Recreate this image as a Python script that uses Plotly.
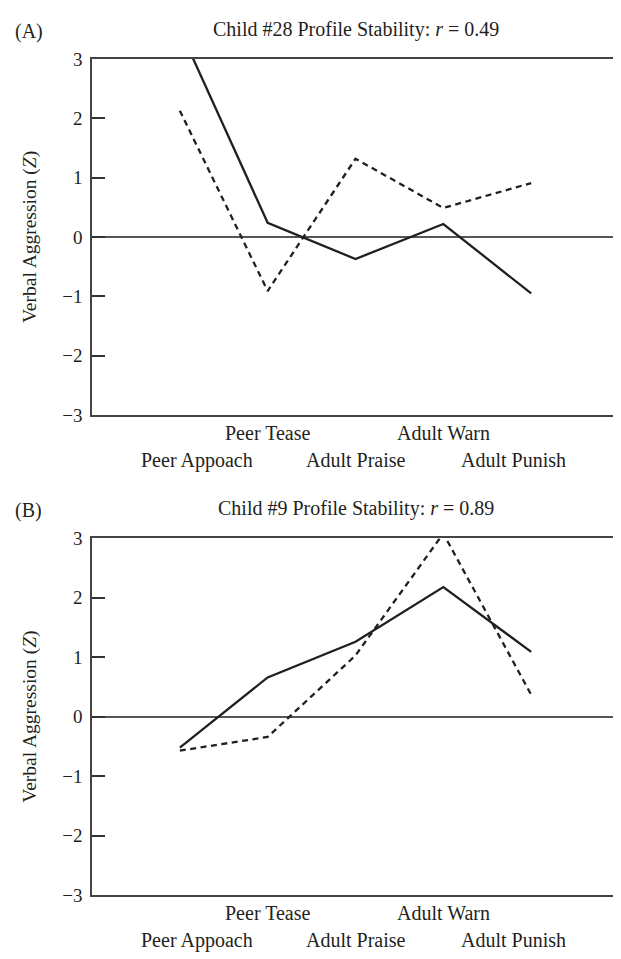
import plotly.graph_objects as go

categories = ["Peer Appoach", "Peer Tease", "Adult Praise", "Adult Warn", "Adult Punish"]
label_row = [2, 1, 2, 1, 2]          # which line the category label sits on
label_shift = [17, 0, 0, 0, -18]     # horizontal nudge of labels (px)

a_solid = [3.5, 0.24, -0.37, 0.22, -0.95]
a_dashed = [2.13, -0.91, 1.32, 0.49, 0.91]
b_solid = [-0.52, 0.66, 1.26, 2.18, 1.09]
b_dashed = [-0.57, -0.34, 1.03, 3.08, 0.37]

titles = ["Child #28 Profile Stability: <i>r</i> = 0.49",
          "Child #9 Profile Stability: <i>r</i> = 0.89"]
panel_tags = ["(A)", "(B)"]
y_ticks = [-3, -2, -1, 0, 1, 2, 3]

# the page body has an 8px default margin; size the figure so it fits the window
OFF = 8
W, H = 621 - OFF, 959 - OFF
FONT = "Liberation Serif, Times New Roman, serif"
INK = "#231f20"

fig = go.Figure()

panels = [(a_solid, a_dashed, "x", "y"), (b_solid, b_dashed, "x2", "y2")]
for s, d, xa, ya in panels:
    fig.add_trace(go.Scatter(x=categories, y=s, mode="lines", xaxis=xa, yaxis=ya,
                             line=dict(color=INK, width=2.3), showlegend=False))
    fig.add_trace(go.Scatter(x=categories, y=d, mode="lines", xaxis=xa, yaxis=ya,
                             line=dict(color=INK, width=2.3, dash="6px,4.5px"), showlegend=False))

# plot area pixel geometry (window coordinates)
x_left, x_right = 92, 619
doms = [(50, 414), (540, 905)]

def px(v):
    return (v - OFF) / W

def py(v):
    return 1 - (v - OFF) / H

xdom = [px(x_left), px(x_right)]

axis_common_x = dict(type="category", range=[-1, 5], showticklabels=False, ticks="",
                     showline=True, mirror=True, linecolor="#444", linewidth=1.5,
                     showgrid=False, zeroline=False, fixedrange=True)
axis_common_y = dict(range=[-3, 3], tickvals=y_ticks, ticks="inside", ticklen=13,
                     tickwidth=1.5, tickcolor="#333", showline=True, mirror=True,
                     linecolor="#444", linewidth=1.5, showgrid=False,
                     zeroline=True, zerolinecolor="#555", zerolinewidth=1.5,
                     tickfont=dict(family=FONT, size=19, color=INK),
                     ticklabelstandoff=4)

fig.update_layout(
    width=W, height=H, margin=dict(l=0, r=0, t=0, b=0),
    paper_bgcolor="white", plot_bgcolor="white",
    xaxis=dict(domain=xdom, anchor="y", **axis_common_x),
    yaxis=dict(domain=[py(doms[0][1]), py(doms[0][0])], anchor="x", **axis_common_y),
    xaxis2=dict(domain=xdom, anchor="y2", **axis_common_x),
    yaxis2=dict(domain=[py(doms[1][1]), py(doms[1][0])], anchor="x2", **axis_common_y),
)

ann = []
for i, (xa, ya) in enumerate([("x", "y"), ("x2", "y2")]):
    top, bot = doms[i]
    ann.append(dict(text=titles[i], xref="paper", yref="paper",
                    x=px((x_left + x_right) / 2), y=py(top - 30),
                    showarrow=False, xanchor="center", yanchor="middle",
                    font=dict(family=FONT, size=20, color=INK)))
    ann.append(dict(text=panel_tags[i], xref="paper", yref="paper",
                    x=px(13), y=py(top - 28), showarrow=False,
                    xanchor="left", yanchor="middle",
                    font=dict(family=FONT, size=20, color=INK)))
    ann.append(dict(text="Verbal Aggression (<i>Z</i>)", xref="paper", yref="paper",
                    x=px(30), y=py((top + bot) / 2), textangle=-90,
                    showarrow=False, xanchor="center", yanchor="middle",
                    font=dict(family=FONT, size=19.5, color=INK)))
    for c, row, sh in zip(categories, label_row, label_shift):
        yoff = 18 if row == 1 else 46
        ann.append(dict(text=c, xref=xa, yref="paper", x=c,
                        y=py(bot + yoff), xshift=sh, showarrow=False,
                        xanchor="center", yanchor="middle",
                        font=dict(family=FONT, size=20, color=INK)))

fig.update_layout(annotations=ann)
fig.write_html("out.html")
